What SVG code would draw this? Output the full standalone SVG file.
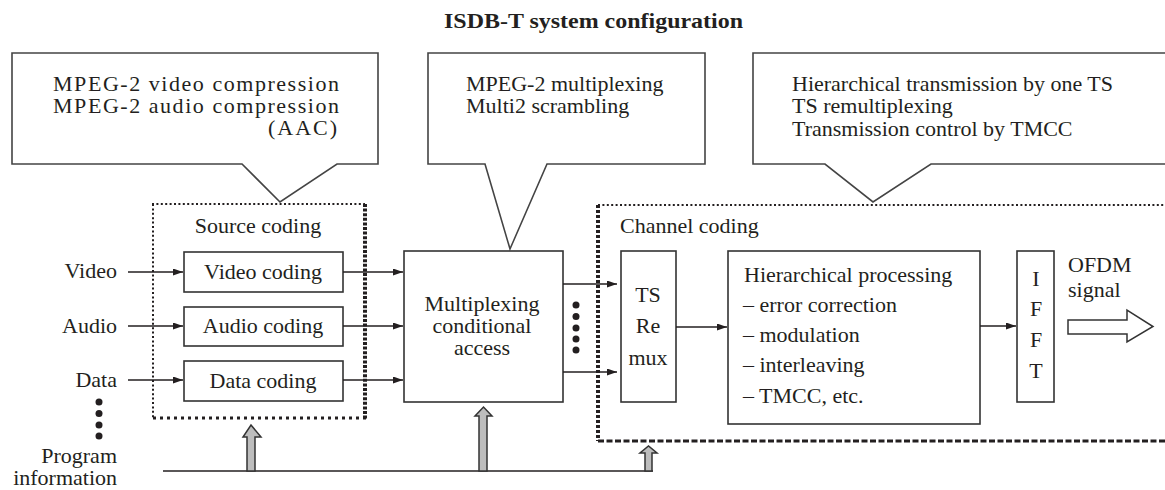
<svg xmlns="http://www.w3.org/2000/svg" width="1165" height="490" viewBox="0 0 1165 490">
<style>
text{font-family:"Liberation Serif","Times New Roman",serif;font-size:22px;fill:#231f20}
.t{font-weight:bold;font-size:21px}
.box{fill:#fff;stroke:#333;stroke-width:1.6}
.call{fill:#fff;stroke:#444;stroke-width:1.6}
.ln{stroke:#231f20;stroke-width:1.5;fill:none}
.mid{text-anchor:middle}
.end{text-anchor:end}
.gray{fill:#bdbdbd;stroke:#333;stroke-width:1.5}
.dot{fill:#231f20}
</style>
<defs>
<marker id="ah" markerUnits="userSpaceOnUse" markerWidth="11" markerHeight="8" refX="10" refY="3.5" orient="auto">
<path d="M0,0 L10,3.5 L0,7 z" fill="#231f20"/>
</marker>
</defs>
<rect width="1165" height="490" fill="#fff"/>
<text class="t" x="444" y="28" textLength="299" lengthAdjust="spacingAndGlyphs">ISDB-T system configuration</text>

<g id="callout-source">
<path class="call" d="M12,53 H378 V164 H337 L280,202 L242,164 H12 Z"/>
<text x="53" y="91" textLength="286" lengthAdjust="spacing">MPEG-2 video compression</text>
<text x="53" y="113" textLength="286" lengthAdjust="spacing">MPEG-2 audio compression</text>
<text x="268" y="135" textLength="69" lengthAdjust="spacing">(AAC)</text>
</g>
<g id="callout-mux">
<path class="call" d="M428,53 H705 V164 H547 L510,249 L485,164 H428 Z"/>
<text x="466" y="91">MPEG-2 multiplexing</text>
<text x="466" y="113">Multi2 scrambling</text>
</g>
<g id="callout-channel">
<path class="call" d="M753,53 H1172 V164 H931 L873,202 L825,164 H753 Z"/>
<text x="792" y="91">Hierarchical transmission by one TS</text>
<text x="792" y="113">TS remultiplexing</text>
<text x="792" y="136">Transmission control by TMCC</text>
</g>

<g id="source-coding">
<line x1="152" y1="204" x2="365" y2="204" stroke="#231f20" stroke-width="2" stroke-dasharray="2 2.4"/>
<line x1="153" y1="204" x2="153" y2="418" stroke="#231f20" stroke-width="2" stroke-dasharray="2 2.4"/>
<line x1="365" y1="204" x2="365" y2="419" stroke="#231f20" stroke-width="4" stroke-dasharray="3 1.6"/>
<line x1="153" y1="418" x2="367" y2="418" stroke="#231f20" stroke-width="3" stroke-dasharray="3 4"/>
<text x="258" y="233" class="mid">Source coding</text>
</g>
<g id="channel-coding">
<line x1="598" y1="205" x2="1165" y2="205" stroke="#231f20" stroke-width="2" stroke-dasharray="2 2.4"/>
<line x1="598" y1="205" x2="598" y2="441" stroke="#231f20" stroke-width="4" stroke-dasharray="3 2"/>
<line x1="598" y1="441" x2="1165" y2="441" stroke="#231f20" stroke-width="3" stroke-dasharray="6 2.5"/>
<text x="620" y="233">Channel coding</text>
</g>

<g id="inputs">
<text x="117" y="278" class="end">Video</text>
<text x="117" y="333" class="end">Audio</text>
<text x="117" y="387" class="end">Data</text>
<circle class="dot" cx="99" cy="402" r="3.5"/>
<circle class="dot" cx="99" cy="413.5" r="3.5"/>
<circle class="dot" cx="99" cy="425" r="3.5"/>
<circle class="dot" cx="99" cy="436" r="3.5"/>
<text x="117" y="463" class="end">Program</text>
<text x="117" y="485" class="end">information</text>
</g>

<g id="video-coding">
<rect class="box" x="184" y="252" width="159" height="40"/>
<text x="263" y="279" class="mid">Video coding</text>
</g>
<g id="audio-coding">
<rect class="box" x="184" y="307" width="159" height="39"/>
<text x="263" y="333" class="mid">Audio coding</text>
</g>
<g id="data-coding">
<rect class="box" x="184" y="361" width="159" height="40"/>
<text x="263" y="388" class="mid">Data coding</text>
</g>

<g id="multiplexing">
<rect class="box" x="404" y="251" width="159" height="151"/>
<text x="482" y="311" class="mid">Multiplexing</text>
<text x="482" y="333" class="mid">conditional</text>
<text x="482" y="355" class="mid">access</text>
</g>
<g id="mux-dots">
<circle class="dot" cx="576" cy="305" r="3.5"/>
<circle class="dot" cx="576" cy="316.5" r="3.5"/>
<circle class="dot" cx="576" cy="328" r="3.5"/>
<circle class="dot" cx="576" cy="339" r="3.5"/>
<circle class="dot" cx="576" cy="350" r="3.5"/>
</g>

<g id="ts-remux">
<rect class="box" x="621" y="251" width="55" height="151"/>
<text x="648" y="302" class="mid">TS</text>
<text x="648" y="333" class="mid">Re</text>
<text x="648" y="365" class="mid">mux</text>
</g>

<g id="hierarchical">
<rect class="box" x="728" y="251" width="252" height="173"/>
<text x="744" y="282">Hierarchical processing</text>
<text x="743" y="312">– error correction</text>
<text x="743" y="342">– modulation</text>
<text x="743" y="372">– interleaving</text>
<text x="743" y="403">– TMCC, etc.</text>
</g>

<g id="ifft">
<rect class="box" x="1017" y="251" width="37" height="151"/>
<text x="1036" y="286" class="mid">I</text>
<text x="1036" y="316" class="mid">F</text>
<text x="1036" y="347" class="mid">F</text>
<text x="1036" y="378" class="mid">T</text>
</g>

<g id="ofdm">
<text x="1068" y="272">OFDM</text>
<text x="1068" y="297">signal</text>
<path d="M1068,320 H1127 V310 L1153,326.5 L1127,342 V334 H1068 Z" fill="#fff" stroke="#333" stroke-width="1.5"/>
</g>

<g id="connectors">
<line class="ln" x1="128" y1="272" x2="183" y2="272" marker-end="url(#ah)"/>
<line class="ln" x1="128" y1="326" x2="183" y2="326" marker-end="url(#ah)"/>
<line class="ln" x1="128" y1="380" x2="183" y2="380" marker-end="url(#ah)"/>
<line class="ln" x1="343" y1="272" x2="403" y2="272" marker-end="url(#ah)"/>
<line class="ln" x1="343" y1="326" x2="403" y2="326" marker-end="url(#ah)"/>
<line class="ln" x1="343" y1="380" x2="403" y2="380" marker-end="url(#ah)"/>
<line class="ln" x1="563" y1="284" x2="617" y2="284" marker-end="url(#ah)"/>
<line class="ln" x1="563" y1="372" x2="617" y2="372" marker-end="url(#ah)"/>
<line class="ln" x1="676" y1="327" x2="727" y2="327" marker-end="url(#ah)"/>
<line class="ln" x1="980" y1="326" x2="1016" y2="326" marker-end="url(#ah)"/>
<line class="ln" x1="163" y1="471" x2="653" y2="471"/>
<path class="gray" d="M247,471 V437 H243 L251,425 L261,437 H255 V471 Z"/>
<path class="gray" d="M479,471 V416 H475 L483.5,407 L492,416 H487 V471 Z"/>
<path class="gray" d="M645,471 V453 H640 L648.5,446 L657,453 H652 V471 Z"/>
</g>
</svg>
